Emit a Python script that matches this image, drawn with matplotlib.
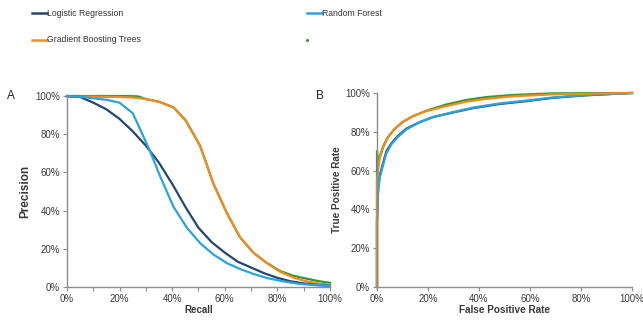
import matplotlib
matplotlib.use("Agg")
import matplotlib.pyplot as plt
from matplotlib.lines import Line2D
from matplotlib.ticker import MultipleLocator, PercentFormatter

plt.rcParams['font.family'] = ['Liberation Sans', 'DejaVu Sans']

# ---- Data ----
colors = {"Logistic Regression": "#23476e", "Random Forest": "#2ba3dc",
          "Gradient Boosting Trees": "#f28b22", "": "#2f9a2f"}

# Precision-Recall (panel A)
pr_recall_lr = [0, 5, 10, 15, 20, 25, 30, 35, 40, 45, 50, 55, 60, 65, 70, 75, 80, 85, 90, 95, 100]
pr_prec_lr = [100, 99.5, 96.5, 93, 88, 81.5, 74, 65, 54, 42, 31, 23.5, 18, 13.2, 10.2, 7.2, 4.8, 3, 1.9, 1.1, 0.6]

pr_recall_rf = [0, 5, 10, 15, 20, 25, 29, 31.6, 35.4, 40.5, 45.6, 50.6, 55.7, 60.8, 65.8, 71, 76, 82, 88, 94, 100]
pr_prec_rf = [100, 99.6, 98.8, 98, 96.5, 91, 79, 71, 58, 42, 31, 23, 17, 12.5, 9.4, 6.8, 4.7, 3, 1.7, 1.0, 0.6]

pr_recall_gbt = [0, 10, 20, 25, 30, 35, 40.5, 45, 50.6, 55.7, 60.8, 65.8, 71, 76, 81, 86, 91, 96, 100]
pr_prec_gbt = [99.6, 99.6, 99.5, 99.2, 98.4, 97, 94, 87.5, 74, 54, 38.7, 26, 17.8, 12.5, 8, 5.0, 3.0, 1.8, 1.2]

pr_recall_gr = [0, 10, 20, 27, 30, 35, 40.5, 45, 50.6, 55.7, 60.8, 65.8, 71, 76, 81, 86, 91, 96, 100]
pr_prec_gr = [100, 100, 100, 99.8, 98.4, 97, 94, 87.5, 74, 54, 38.7, 26, 17.8, 12.6, 8.4, 5.9, 4.4, 3.0, 2.2]

# ROC (panel B)
roc_fpr_lr = [0, 0, 0.2, 0.4, 1, 2.4, 3.7, 5.6, 8.3, 11.5, 16.8, 22, 30, 37.7, 48, 58.7, 69, 82, 100]
roc_tpr_lr = [0, 34, 42, 50, 57, 64, 70, 74, 78, 81.6, 85, 87.6, 90, 92.2, 94.3, 95.8, 97.5, 98.8, 100]

roc_fpr_rf = [0, 0, 0.2, 0.4, 1, 2.4, 3.7, 5.6, 8.3, 11.5, 16.8, 22, 30, 37.7, 48, 58.7, 69, 82, 100]
roc_tpr_rf = [0, 33, 40, 48, 56, 63, 69, 73.5, 77.5, 81.2, 85, 87.6, 90.2, 92.5, 94.6, 96.1, 97.7, 98.9, 100]

roc_fpr_gbt = [0, 0, 0.4, 1, 2.4, 4.3, 7, 10, 14, 19.4, 27, 35, 43, 53.5, 69, 100]
roc_tpr_gbt = [0, 55, 60, 66, 72, 77, 81.6, 85, 88, 90.7, 93.2, 95.5, 97.0, 98.3, 99.3, 100]

roc_fpr_gr = [0, 0, 0.4, 1, 2.4, 4.3, 7, 10, 14, 19.4, 27, 35, 43, 53.5, 69, 100]
roc_tpr_gr = [0, 70, 63, 67, 72.5, 77.3, 81.6, 85, 88, 90.9, 94.0, 96.4, 97.9, 99.0, 99.8, 100]

pr_data = [("", pr_recall_gr, pr_prec_gr), ("Gradient Boosting Trees", pr_recall_gbt, pr_prec_gbt),
           ("Logistic Regression", pr_recall_lr, pr_prec_lr), ("Random Forest", pr_recall_rf, pr_prec_rf)]
roc_data = [("Logistic Regression", roc_fpr_lr, roc_tpr_lr), ("Random Forest", roc_fpr_rf, roc_tpr_rf),
            ("", roc_fpr_gr, roc_tpr_gr), ("Gradient Boosting Trees", roc_fpr_gbt, roc_tpr_gbt)]

# ---- Figure ----
fig = plt.figure(figsize=(6.43, 3.20), dpi=100)
axA = fig.add_axes([0.1042, 0.1031, 0.4090, 0.5969])
axB = fig.add_axes([0.5863, 0.1031, 0.3966, 0.6063])

tick_color = "#3a3a3a"
spine_color = "#8c8c8c"

for ax in (axA, axB):
    ax.set_xlim(0, 100)
    ax.set_ylim(0, 100)
    for s in ("top", "right"):
        ax.spines[s].set_visible(False)
    for s in ("left", "bottom"):
        ax.spines[s].set_color(spine_color)
        ax.spines[s].set_linewidth(1.0)
    ax.yaxis.set_major_locator(MultipleLocator(20))
    ax.xaxis.set_major_formatter(PercentFormatter(decimals=0))
    ax.yaxis.set_major_formatter(PercentFormatter(decimals=0))
    ax.tick_params(axis="both", which="both", colors=spine_color, labelcolor=tick_color,
                   labelsize=7, length=3, width=0.8, pad=2)

axA.xaxis.set_major_locator(MultipleLocator(20))
axA.xaxis.set_minor_locator(MultipleLocator(10))
axA.tick_params(axis="x", which="minor", length=3, width=0.8, colors=spine_color)
axB.xaxis.set_major_locator(MultipleLocator(20))

for name, x, y in pr_data:
    axA.plot(x, y, color=colors[name], lw=1.6, clip_on=False, solid_joinstyle="round")
for name, x, y in roc_data:
    axB.plot(x, y, color=colors[name], lw=1.6, clip_on=False, solid_joinstyle="round")

axA.set_xlabel("Recall", fontsize=7, fontweight="bold", color="#3a3a3a", labelpad=1)
axA.set_ylabel("Precision", fontsize=8.5, fontweight="bold", color="#3a3a3a", labelpad=3)
axB.set_xlabel("False Positive Rate", fontsize=7.2, fontweight="bold", color="#3a3a3a", labelpad=1)
axB.set_ylabel("True Positive Rate", fontsize=7.2, fontweight="bold", color="#3a3a3a", labelpad=2)

fig.text(7 / 643, 1 - 96 / 320, "A", fontsize=8.5, color="#222222", va="center", ha="left")
fig.text(316 / 643, 1 - 96 / 320, "B", fontsize=8.5, color="#222222", va="center", ha="left")

# ---- Legend ----
legend_items = [("Logistic Regression", 32, 13), ("Random Forest", 307, 13),
                ("Gradient Boosting Trees", 32, 40)]
for name, px, py in legend_items:
    yy = 1 - py / 320
    fig.add_artist(Line2D([px / 643, (px + 15) / 643], [yy, yy], color=colors[name], lw=1.8,
                          transform=fig.transFigure))
    fig.text((px + 15) / 643, yy, name, fontsize=6.2, color="#333333", va="center", ha="left")
fig.add_artist(Line2D([307 / 643], [1 - 40 / 320], marker="o", markersize=1.2, color=colors[""],
                      lw=0, transform=fig.transFigure))

fig.savefig("out.png", dpi=100)
